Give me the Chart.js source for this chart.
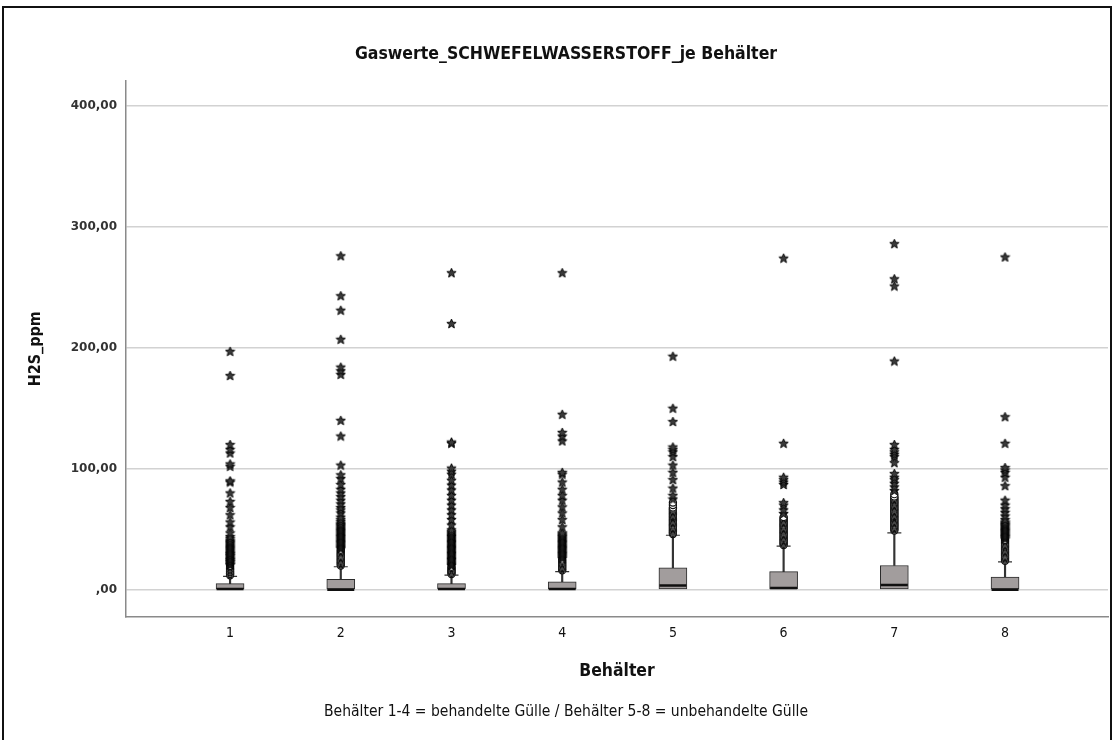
<!DOCTYPE html>
<html>
<head>
<meta charset="utf-8">
<script src="https://cdn.jsdelivr.net/npm/chart.js@4.4.1/dist/chart.umd.min.js"></script>
<style>
  body { margin: 0; background: #fff; }
  #wrap { position: relative; width: 1112px; height: 740px; overflow: hidden; }
  #frame { position: absolute; left: 2px; top: 6px; width: 1106px; height: 800px; border: 2px solid #111; pointer-events: none; }
</style>
</head>
<body>
<div id="wrap">
  <canvas id="boxplot"></canvas>
  <div id="frame"></div>
</div>
<script>
const chartTitle = 'Gaswerte_SCHWEFELWASSERSTOFF_je Behälter';
const footNote = 'Behälter 1-4 = behandelte Gülle / Behälter 5-8 = unbehandelte Gülle';
const xTitle = 'Behälter';
const yTitle = 'H2S_ppm';

const categories = ['1', '2', '3', '4', '5', '6', '7', '8'];
const yTicks = [0, 100, 200, 300, 400];
const yTickLabels = [',00', '100,00', '200,00', '300,00', '400,00'];

// box statistics per Behälter
const lowerQuartile = [0, 0, 0, 0, 0, 0, 0, 0];
const medians = [0.5, 0, 0.5, 0.5, 3.5, 1.5, 4, 0];
const upperQuartile = [5, 8.5, 5, 6.5, 18, 15, 20, 10.5];
const upperWhisker = [11, 19, 12, 15, 45, 36, 47, 23];

// outliers (circles)
const mildOutliers = [
  [12, 13, 13.5, 14.5, 15, 16, 17, 17.5, 18.5, 19.5],
  [20, 21, 22, 23, 24, 25, 26, 27, 28, 29, 30, 31, 32, 33],
  [13, 14, 15, 16, 17, 18, 19],
  [16, 17, 18, 19, 20, 21, 22, 23, 24, 25],
  [46, 47, 48, 49, 50, 51, 52, 53, 54, 55, 56, 57, 58, 59, 60, 61, 62, 63, 64, 65, 66, 67, 68, 70, 72],
  [37, 38, 39, 40, 41, 42, 43, 44, 45, 46, 47, 48, 49, 50, 51, 52, 53, 54, 55, 56, 57, 58, 59, 60],
  [49, 50, 51, 52, 53, 54, 55, 56, 57, 58, 59, 60, 61, 62, 63, 64, 65, 66, 67, 68, 69, 70, 71, 72, 73, 74, 75, 76, 77, 79],
  [24, 25, 26, 27, 28, 29, 30, 31, 32, 33, 34, 35, 36, 37, 38, 39, 40, 41]
];

// extreme values (stars)
const extremeOutliers = [
  [20.5, 21, 22, 23, 23.5, 24.5, 25, 26, 27, 28, 28.5, 29.5, 30, 31, 32, 33, 34, 35, 36, 37, 38, 39, 40, 41, 42.5, 44,
   47, 52, 56, 62, 68, 73, 80, 89, 90, 102, 104, 113, 116, 120, 177, 197],
  [34, 35, 36, 37, 38, 39, 40, 41, 42, 43, 44, 45, 46, 47, 48, 49, 50, 51, 52, 53, 54, 55, 56.5, 58, 60,
   63.5, 66, 68, 71, 74, 77, 80, 83, 87, 92, 95, 103, 127, 140, 178, 181, 184, 207, 231, 243, 276],
  [20, 21, 22, 23, 24, 25, 26, 27, 28, 29, 30, 31, 32, 33, 34, 35, 36, 37, 38, 39, 40, 41, 42, 43, 44, 45, 46, 47, 48,
   49.5, 53.5, 58, 62, 66, 70, 74, 78, 82.5, 86.5, 90.5, 95.5, 98, 100.5, 121, 122, 220, 262],
  [26, 27, 28, 29, 30, 31, 32, 33, 34, 35, 36, 37, 38, 39, 40, 41, 42, 43, 44, 45, 46, 47,
   52, 58, 63.5, 68.5, 74, 78, 83, 89, 95.5, 97, 123, 127, 130, 145, 262],
  [75, 78, 84, 91, 97, 103, 110, 114, 116, 118, 139, 150, 193],
  [63, 66, 70, 72, 87, 89, 91, 93, 121, 274],
  [82, 85, 88, 91, 93, 96, 105, 110, 112, 114, 116, 120, 189, 251, 257, 286],
  [42, 43, 44, 45, 46, 47, 48, 49, 50, 51, 52, 53, 54, 55, 56, 58, 61, 64, 67, 70, 74, 86, 93, 97, 99, 101, 121, 143, 275]
];

const narrow = '"Liberation Sans Narrow", "DejaVu Sans Condensed", "Arial Narrow", sans-serif';

function makeStar(size) {
  const c = document.createElement('canvas');
  c.width = c.height = size;
  const g = c.getContext('2d');
  const cx = size / 2, cy = size / 2 + 0.4, R = size / 2 - 0.6, r = R * 0.45;
  g.beginPath();
  for (let k = 0; k < 10; k++) {
    const a = -Math.PI / 2 + k * Math.PI / 5;
    const rad = k % 2 ? r : R;
    g.lineTo(cx + rad * Math.cos(a), cy + rad * Math.sin(a));
  }
  g.closePath();
  g.fillStyle = '#3a3a3a';
  g.fill();
  g.lineWidth = 0.9;
  g.strokeStyle = '#000';
  g.stroke();
  return c;
}
const starMark = makeStar(11);

const xOf = i => i + 1;
const points = lists => lists.flatMap((vals, i) => vals.map(v => ({ x: xOf(i), y: v })));

const ctx = document.getElementById('boxplot');
new Chart(ctx, {
  type: 'bar',
  data: {
    datasets: [
      {
        label: 'whisker',
        data: categories.map((c, i) => ({ x: xOf(i), y: [upperQuartile[i], upperWhisker[i]] })),
        backgroundColor: '#333',
        borderWidth: 0,
        barThickness: 1.5,
        grouped: false,
        order: 6
      },
      {
        label: 'box',
        data: categories.map((c, i) => ({ x: xOf(i), y: [lowerQuartile[i], upperQuartile[i]] })),
        backgroundColor: '#a29d9d',
        borderColor: '#2b2b2b',
        borderWidth: 1,
        borderSkipped: false,
        barThickness: 28,
        grouped: false,
        order: 5
      },
      {
        type: 'scatter',
        label: 'cap',
        data: categories.map((c, i) => ({ x: xOf(i), y: upperWhisker[i] })),
        pointStyle: 'line',
        pointRadius: 7,
        borderColor: '#333',
        borderWidth: 1.2,
        order: 4
      },
      {
        type: 'scatter',
        label: 'median',
        data: categories.map((c, i) => ({ x: xOf(i), y: medians[i] })),
        pointStyle: 'line',
        pointRadius: 13.5,
        borderColor: '#111',
        borderWidth: 2.5,
        order: 3
      },
      {
        type: 'scatter',
        label: 'outlier',
        data: points(mildOutliers),
        pointStyle: 'circle',
        pointRadius: 3.6,
        backgroundColor: '#fff',
        borderColor: '#111',
        borderWidth: 1.2,
        order: 2
      },
      {
        type: 'scatter',
        label: 'extreme',
        data: points(extremeOutliers),
        pointStyle: starMark,
        order: 1
      }
    ]
  },
  options: {
    responsive: true,
    maintainAspectRatio: false,
    devicePixelRatio: 1,
    animation: false,
    events: [],
    layout: { autoPadding: false, padding: { left: 24, right: 4, top: 0, bottom: 0 } },
    plugins: {
      legend: { display: false },
      tooltip: { enabled: false },
      title: {
        display: true,
        text: chartTitle,
        color: '#111',
        font: { family: narrow, size: 17.5, weight: 'bold' },
        padding: { top: 43.5, bottom: 16.3 }
      },
      subtitle: {
        display: true,
        position: 'bottom',
        text: footNote,
        color: '#111',
        font: { family: narrow, size: 15.5, weight: 'normal' },
        padding: { top: 10, bottom: 18.7 }
      }
    },
    scales: {
      x: {
        type: 'linear',
        offset: false,
        min: 0.06,
        max: 8.93,
        afterBuildTicks: s => { s.ticks = categories.map((c, i) => ({ value: xOf(i) })); },
        afterFit: s => { s.height = 76; s.paddingLeft = 0; s.paddingRight = 0; },
        ticks: {
          callback: (v, i) => categories[i],
          color: '#111',
          font: { family: narrow, size: 14 },
          padding: 8,
          maxRotation: 0,
          autoSkip: false
        },
        grid: { display: false, drawTicks: false },
        border: { display: true, color: '#8a8a8a', width: 1.5 },
        title: {
          display: true,
          text: xTitle,
          color: '#111',
          font: { family: narrow, size: 17.4, weight: 'bold' },
          padding: { top: 0, bottom: 10.3 }
        }
      },
      y: {
        type: 'linear',
        min: -22.3,
        max: 420.6,
        afterBuildTicks: s => { s.ticks = yTicks.map(v => ({ value: v })); },
        afterFit: s => { s.width = 102; },
        ticks: {
          callback: (v, i) => yTickLabels[i],
          color: '#333',
          font: { family: '"DejaVu Sans", sans-serif', size: 12, weight: 'bold' },
          padding: 9
        },
        grid: { color: '#d2d2d2', lineWidth: 1.6, drawTicks: false },
        border: { display: true, color: '#8a8a8a', width: 1.5 },
        title: {
          display: true,
          text: yTitle,
          color: '#111',
          font: { family: narrow, size: 16, weight: 'bold' },
          padding: { top: 2, bottom: 0 }
        }
      }
    }
  }
});
</script>
</body>
</html>
